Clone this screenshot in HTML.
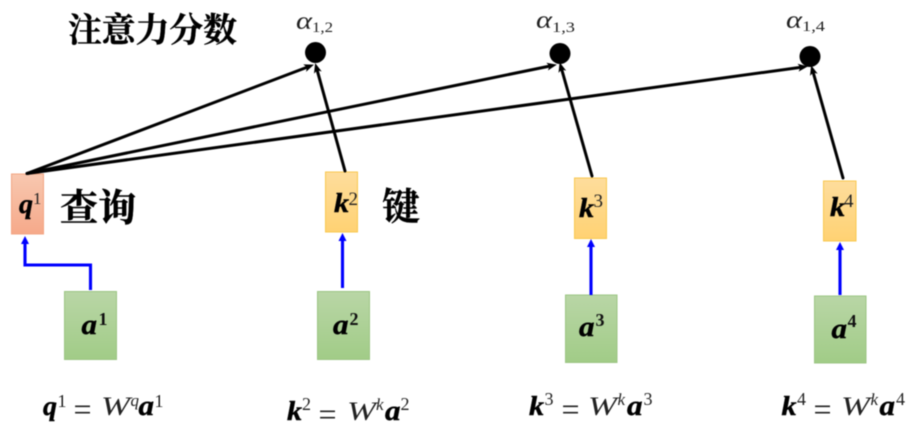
<!DOCTYPE html>
<html>
<head>
<meta charset="utf-8">
<style>
html,body{margin:0;padding:0;background:#fff;width:906px;height:429px;overflow:hidden}
svg{display:block;filter:blur(0.45px)}
.cjk{font-family:"Liberation Serif","Noto Serif CJK SC",serif;font-weight:700;fill:#000;stroke:#000;stroke-width:.4px}
.b{font-family:"Liberation Serif",serif;font-weight:700;font-style:italic;fill:#000;stroke:#000;stroke-width:.45px}
.n{font-family:"Liberation Serif",serif;fill:#222}
.h{font-family:"Liberation Serif",serif;font-weight:700;fill:#111}
.i{font-family:"Liberation Serif",serif;font-style:italic;fill:#222}
</style>
</head>
<body>
<svg width="906" height="429" viewBox="0 0 906 429" xmlns="http://www.w3.org/2000/svg">
<defs>
<linearGradient id="o" x1="0" y1="0" x2="0" y2="1"><stop offset="0" stop-color="#f8c8b0"/><stop offset="1" stop-color="#f6a98a"/></linearGradient>
<linearGradient id="y" x1="0" y1="0" x2="0" y2="1"><stop offset="0" stop-color="#fedd9c"/><stop offset="1" stop-color="#ffd273"/></linearGradient>
<linearGradient id="g" x1="0" y1="0" x2="0" y2="1"><stop offset="0" stop-color="#b9d6a6"/><stop offset="1" stop-color="#a1cc87"/></linearGradient>
<marker id="ab" markerUnits="userSpaceOnUse" markerWidth="12" markerHeight="10" refX="5" refY="5" orient="auto"><path d="M0,1 L10,5 L0,9 L2.5,5 Z" fill="#000"/></marker>
<marker id="al" markerUnits="userSpaceOnUse" markerWidth="12" markerHeight="10" refX="3" refY="4.5" orient="auto"><path d="M0,0.5 L8,4.5 L0,8.5 Z" fill="#0000ff"/></marker>
</defs>

<!-- boxes -->
<rect x="11.5" y="174" width="32" height="60" fill="url(#o)" stroke="#f2a583" stroke-width="1"/>
<rect x="325.5" y="172" width="32" height="60" fill="url(#y)" stroke="#f9c84f" stroke-width="1"/>
<rect x="574.5" y="178" width="32" height="60.5" fill="url(#y)" stroke="#f9c84f" stroke-width="1"/>
<rect x="823.5" y="181" width="32.5" height="60" fill="url(#y)" stroke="#f9c84f" stroke-width="1"/>
<rect x="64.5" y="291.5" width="52" height="68" fill="url(#g)" stroke="#9cc583" stroke-width="1"/>
<rect x="317.5" y="291.5" width="52" height="68" fill="url(#g)" stroke="#9cc583" stroke-width="1"/>
<rect x="565.5" y="295" width="51.5" height="67.5" fill="url(#g)" stroke="#9cc583" stroke-width="1"/>
<rect x="814.5" y="296" width="51.5" height="67" fill="url(#g)" stroke="#9cc583" stroke-width="1"/>

<!-- circles -->
<circle cx="315.5" cy="52.5" r="10.5" fill="#000"/>
<circle cx="560" cy="53.5" r="10.5" fill="#000"/>
<circle cx="810" cy="56.5" r="10.5" fill="#000"/>

<!-- black arrows -->
<g stroke="#000" stroke-width="3" fill="none" stroke-linecap="round">
<line x1="27" y1="173.5" x2="309.3" y2="66.4" marker-end="url(#ab)"/>
<line x1="27" y1="173.5" x2="552" y2="65.6" marker-end="url(#ab)"/>
<line x1="27" y1="173.5" x2="803" y2="67" marker-end="url(#ab)"/>
<line x1="345" y1="171" x2="316.5" y2="67.8" marker-end="url(#ab)"/>
<line x1="592" y1="176" x2="561" y2="67" marker-end="url(#ab)"/>
<line x1="843" y1="178" x2="812.5" y2="70" marker-end="url(#ab)"/>
</g>

<!-- blue arrows -->
<g stroke="#0000ff" stroke-width="3.1" fill="none">
<polyline points="90.5,290 90.5,265 25,265 25,241"  marker-end="url(#al)"/>
<line x1="342.5" y1="288" x2="342.5" y2="238" marker-end="url(#al)"/>
<line x1="591" y1="295" x2="591" y2="244" marker-end="url(#al)"/>
<line x1="840" y1="295" x2="840" y2="247" marker-end="url(#al)"/>
</g>

<!-- CJK labels -->
<text class="cjk" x="68" y="41.5" font-size="33.8">注意力分数</text>
<text class="cjk" x="60" y="221" font-size="38">查询</text>
<text class="cjk" x="382" y="220" font-size="38">键</text>

<!-- alpha labels -->
<text class="i" x="296" y="29" font-size="25" textLength="16" lengthAdjust="spacingAndGlyphs">α</text><text class="n" x="312" y="32" font-size="15" textLength="21" lengthAdjust="spacingAndGlyphs">1,2</text>
<text class="i" x="536" y="28" font-size="25" textLength="16" lengthAdjust="spacingAndGlyphs">α</text><text class="n" x="552" y="32" font-size="15" textLength="23" lengthAdjust="spacingAndGlyphs">1,3</text>
<text class="i" x="786" y="28" font-size="25" textLength="16" lengthAdjust="spacingAndGlyphs">α</text><text class="n" x="802" y="31" font-size="15" textLength="23" lengthAdjust="spacingAndGlyphs">1,4</text>

<!-- box labels -->
<text class="b" x="19" y="213" font-size="27" textLength="14" lengthAdjust="spacingAndGlyphs">q</text><text class="n" x="33" y="204" font-size="17">1</text>
<text class="b" x="334" y="212" font-size="27" textLength="15" lengthAdjust="spacingAndGlyphs">k</text><text class="n" x="348.5" y="205" font-size="19">2</text>
<text class="b" x="579" y="217" font-size="27" textLength="15" lengthAdjust="spacingAndGlyphs">k</text><text class="n" x="593.5" y="207" font-size="19">3</text>
<text class="b" x="830" y="216" font-size="27" textLength="15" lengthAdjust="spacingAndGlyphs">k</text><text class="n" x="844" y="207" font-size="19">4</text>

<text class="b" x="81.5" y="334" font-size="28" textLength="15.5" lengthAdjust="spacingAndGlyphs">a</text><text class="h" x="98.5" y="325" font-size="18">1</text>
<text class="b" x="333" y="334" font-size="28" textLength="15.5" lengthAdjust="spacingAndGlyphs">a</text><text class="h" x="349.5" y="325" font-size="18">2</text>
<text class="b" x="579" y="336" font-size="28" textLength="15.5" lengthAdjust="spacingAndGlyphs">a</text><text class="h" x="595.5" y="326" font-size="18">3</text>
<text class="b" x="831.5" y="338" font-size="28" textLength="15.5" lengthAdjust="spacingAndGlyphs">a</text><text class="h" x="847.5" y="327" font-size="18">4</text>

<!-- equations -->
<g>
<text class="b" x="43" y="415" font-size="27" textLength="14" lengthAdjust="spacingAndGlyphs">q</text><text class="n" x="57.5" y="407" font-size="18">1</text>
<text class="n" x="73.5" y="420" font-size="32">=</text>
<text class="i" x="101" y="415" font-size="26" textLength="29" lengthAdjust="spacingAndGlyphs">W</text><text class="i" x="130.5" y="406" font-size="17">q</text>
<text class="b" x="138.5" y="415" font-size="28" textLength="15.5" lengthAdjust="spacingAndGlyphs">a</text><text class="n" x="154.5" y="407" font-size="18">1</text>

<text class="b" x="287" y="420" font-size="27" textLength="15" lengthAdjust="spacingAndGlyphs">k</text><text class="n" x="302" y="410" font-size="18">2</text>
<text class="n" x="318.5" y="425" font-size="32">=</text>
<text class="i" x="347" y="420" font-size="26" textLength="29" lengthAdjust="spacingAndGlyphs">W</text><text class="i" x="376" y="410" font-size="17">k</text>
<text class="b" x="385" y="420" font-size="28" textLength="15.5" lengthAdjust="spacingAndGlyphs">a</text><text class="n" x="400.5" y="410" font-size="18">2</text>

<text class="b" x="529" y="415" font-size="27" textLength="15" lengthAdjust="spacingAndGlyphs">k</text><text class="n" x="544.5" y="405" font-size="18">3</text>
<text class="n" x="561.5" y="420" font-size="32">=</text>
<text class="i" x="588" y="415" font-size="26" textLength="29" lengthAdjust="spacingAndGlyphs">W</text><text class="i" x="617.5" y="405" font-size="17">k</text>
<text class="b" x="627" y="415" font-size="28" textLength="15.5" lengthAdjust="spacingAndGlyphs">a</text><text class="n" x="643.5" y="405" font-size="18">3</text>

<text class="b" x="781.5" y="415" font-size="27" textLength="15" lengthAdjust="spacingAndGlyphs">k</text><text class="n" x="797" y="405" font-size="18">4</text>
<text class="n" x="813.5" y="420" font-size="32">=</text>
<text class="i" x="841" y="415" font-size="26" textLength="29" lengthAdjust="spacingAndGlyphs">W</text><text class="i" x="870.5" y="405" font-size="17">k</text>
<text class="b" x="879.5" y="415" font-size="28" textLength="15.5" lengthAdjust="spacingAndGlyphs">a</text><text class="n" x="896" y="405" font-size="18">4</text>
</g>
</svg>
</body>
</html>
